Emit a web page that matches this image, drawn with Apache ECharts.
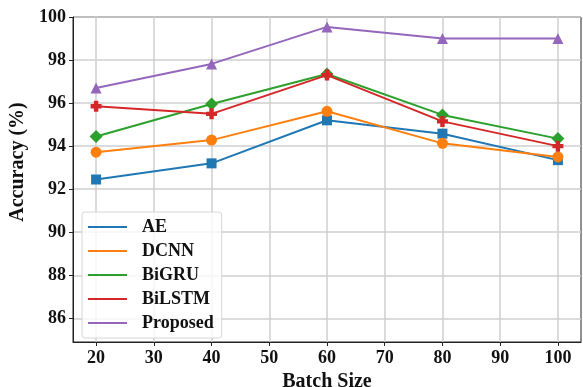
<!DOCTYPE html>
<html>
<head>
<meta charset="utf-8">
<script src="https://cdn.jsdelivr.net/npm/echarts@6/dist/echarts.min.js"></script>
<style>
  html, body { margin: 0; padding: 0; background: #fff; }
  #chart { width: 583px; height: 387px; }
</style>
</head>
<body>
<div id="chart"></div>
<script>
const batchSizes = [20, 40, 60, 80, 100]
const aeValues = [92.45, 93.2, 95.2, 94.58, 93.35]
const dcnnValues = [93.72, 94.28, 95.62, 94.13, 93.5]
const bigruValues = [94.45, 95.96, 97.35, 95.45, 94.35]
const bilstmValues = [95.85, 95.5, 97.3, 95.15, 94.0]
const proposedValues = [96.7, 97.82, 99.54, 99.0, 99.0]
const xTicks = [20, 30, 40, 50, 60, 70, 80, 90, 100]
const yTicks = [86, 88, 90, 92, 94, 96, 98, 100]

const colorBoard = {
  AE: '#1f77b4',
  DCNN: '#ff7f0e',
  BiGRU: '#2ca02c',
  BiLSTM: '#d62728',
  Proposed: '#9467bd',
}

// filled plus marker (matplotlib 'P')
const plusPath = 'path://M3,0 L7,0 L7,3 L10,3 L10,7 L7,7 L7,10 L3,10 L3,7 L0,7 L0,3 L3,3 Z'

const seriesDefs = [
  { name: 'AE', values: aeValues, symbol: 'rect', size: 10 },
  { name: 'DCNN', values: dcnnValues, symbol: 'circle', size: 11 },
  { name: 'BiGRU', values: bigruValues, symbol: 'diamond', size: 13 },
  { name: 'BiLSTM', values: bilstmValues, symbol: plusPath, size: 11 },
  { name: 'Proposed', values: proposedValues, symbol: 'triangle', size: 11 },
]

const font = '"Liberation Serif", "Times New Roman", serif'

const chart = echarts.init(document.getElementById('chart'))

chart.setOption({
  animation: false,
  textStyle: { fontFamily: font },
  grid: {
    left: 73,
    right: 2,
    top: 17,
    bottom: 45,
    outerBoundsMode: 'none',
    containLabel: false,
    show: true,
    borderColor: '#222',
    borderWidth: 1,
  },
  legend: {
    orient: 'vertical',
    left: 82,
    top: 212,
    padding: [6, 8, 6, 6],
    itemGap: 6,
    itemWidth: 39,
    itemHeight: 2,
    icon: 'rect',
    backgroundColor: 'rgba(255,255,255,0.8)',
    borderColor: '#d6d6d6',
    borderWidth: 1,
    borderRadius: 3,
    textStyle: {
      fontFamily: font,
      fontWeight: 'bold',
      fontSize: 18,
      color: '#111',
      padding: [0, 0, 0, 10],
    },
    data: seriesDefs.map((s) => s.name),
  },
  xAxis: {
    type: 'value',
    min: 16,
    max: 104,
    splitNumber: 9,
    name: 'Batch Size',
    nameLocation: 'middle',
    nameGap: 26,
    nameTextStyle: { fontFamily: font, fontWeight: 'bold', fontSize: 20, color: '#111' },
    axisLine: { lineStyle: { color: '#222', width: 1 } },
    axisTick: { show: true, customValues: xTicks, length: 4, lineStyle: { color: '#222' } },
    axisLabel: {
      customValues: xTicks,
      fontFamily: font,
      fontWeight: 'bold',
      fontSize: 18,
      color: '#111',
      margin: 7,
    },
    splitLine: { show: true, lineStyle: { color: '#cfcfcf', width: 1.5 } },
  },
  yAxis: {
    type: 'value',
    min: 84.9,
    max: 100,
    splitNumber: 7,
    name: 'Accuracy (%)',
    nameLocation: 'middle',
    nameGap: 43,
    nameTextStyle: {
      fontFamily: font,
      fontWeight: 'bold',
      fontSize: 20,
      color: '#111',
      padding: [0, 0, 0, 35],
    },
    axisLine: { show: true, lineStyle: { color: '#222', width: 1 } },
    axisTick: { show: true, customValues: yTicks, length: 4, lineStyle: { color: '#222' } },
    axisLabel: {
      customValues: yTicks,
      fontFamily: font,
      fontWeight: 'bold',
      fontSize: 18,
      color: '#111',
      margin: 7,
    },
    splitLine: { show: true, lineStyle: { color: '#cfcfcf', width: 1.5 } },
  },
  series: seriesDefs.map((s) => ({
    name: s.name,
    type: 'line',
    symbol: s.symbol,
    symbolSize: s.size,
    showAllSymbol: true,
    itemStyle: { color: colorBoard[s.name] },
    lineStyle: { color: colorBoard[s.name], width: 2 },
    data: batchSizes.map((b, i) => [b, s.values[i]]),
  })),
})
</script>
</body>
</html>
